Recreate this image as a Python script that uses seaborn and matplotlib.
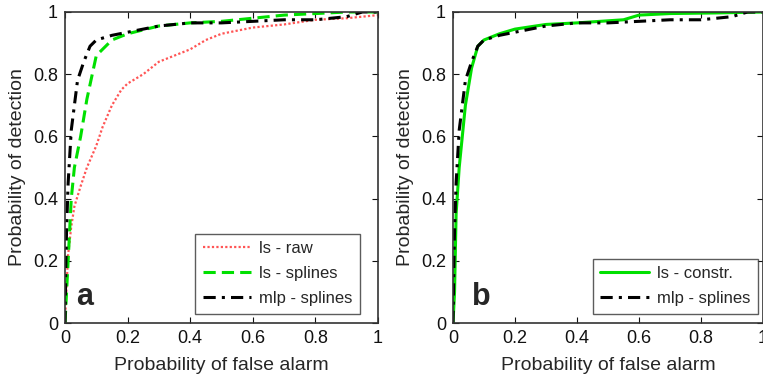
import numpy as np
import pandas as pd
import matplotlib
matplotlib.use("Agg")
import matplotlib.pyplot as plt
import seaborn as sns

# ROC curves
ls_raw_x = [0, 0.005, 0.01, 0.02, 0.03, 0.05, 0.07, 0.1, 0.12, 0.15, 0.18, 0.2, 0.25, 0.3,
            0.35, 0.4, 0.45, 0.5, 0.6, 0.7, 0.8, 0.9, 1.0]
ls_raw_y = [0, 0.12, 0.22, 0.31, 0.375, 0.44, 0.5, 0.57, 0.63, 0.7, 0.75, 0.77, 0.8, 0.84,
            0.86, 0.88, 0.91, 0.93, 0.95, 0.96, 0.975, 0.98, 0.99]

ls_spl_x = [0, 0.005, 0.01, 0.02, 0.03, 0.05, 0.07, 0.1, 0.15, 0.2, 0.3, 0.4, 0.5, 0.6,
            0.7, 0.8, 0.9, 1.0]
ls_spl_y = [0, 0.1, 0.2, 0.4, 0.5, 0.6, 0.72, 0.86, 0.91, 0.93, 0.955, 0.965, 0.97, 0.98,
            0.99, 0.995, 1.0, 1.0]

mlp_x = [0, 0.003, 0.005, 0.01, 0.02, 0.04, 0.06, 0.08, 0.1, 0.15, 0.2, 0.3, 0.4, 0.5,
         0.6, 0.7, 0.8, 0.9, 0.95, 1.0]
mlp_y = [0, 0.2, 0.3, 0.45, 0.62, 0.78, 0.84, 0.89, 0.91, 0.925, 0.935, 0.955, 0.965, 0.965,
         0.97, 0.975, 0.975, 0.985, 1.0, 1.0]

ls_con_x = [0, 0.005, 0.01, 0.02, 0.03, 0.04, 0.06, 0.08, 0.1, 0.15, 0.2, 0.3, 0.4, 0.55,
            0.6, 0.7, 0.85, 1.0]
ls_con_y = [0, 0.1, 0.35, 0.5, 0.6, 0.7, 0.82, 0.89, 0.91, 0.93, 0.945, 0.96, 0.965, 0.975,
            0.99, 0.995, 0.997, 1.0]

tick_vals = [0, 0.2, 0.4, 0.6, 0.8, 1]
tick_labels = ["0", "0.2", "0.4", "0.6", "0.8", "1"]

sns.set_style("ticks")
plt.rcParams['font.family'] = ['Liberation Sans', 'DejaVu Sans']

fig = plt.figure(figsize=(7.63, 3.77), dpi=100)
ax_a = fig.add_axes([65 / 763, 1 - 323 / 377, 313 / 763, 311 / 377])
ax_b = fig.add_axes([453 / 763, 1 - 323 / 377, 310 / 763, 311 / 377])


def style_axes(ax):
    ax.set_xlim(0, 1)
    ax.set_ylim(0, 1)
    ax.set_xticks(tick_vals)
    ax.set_xticklabels(tick_labels)
    ax.set_yticks(tick_vals)
    ax.set_yticklabels(tick_labels)
    ax.tick_params(direction='in', top=True, right=True, labelsize=13, length=4,
                   width=0.8, colors='#111111', pad=5)
    for s in ax.spines.values():
        s.set_color('#333333')
        s.set_linewidth(1.2)
    ax.set_xlabel("Probability of false alarm", fontsize=14, labelpad=7)
    ax.set_ylabel("Probability of detection", fontsize=14, labelpad=5)


# panel a
sns.lineplot(x=ls_raw_x, y=ls_raw_y, ax=ax_a, color='#ff5555', linestyle=(0, (1, 1)),
             linewidth=1.6, sort=False, estimator=None, label='ls - raw')
sns.lineplot(x=ls_spl_x, y=ls_spl_y, ax=ax_a, color='#00e000', linestyle=(0, (4, 2)),
             linewidth=2.2, sort=False, estimator=None, label='ls - splines')
sns.lineplot(x=mlp_x, y=mlp_y, ax=ax_a, color='black', linestyle=(0, (4, 2, 1, 2)),
             linewidth=2.2, sort=False, estimator=None, label='mlp - splines')
style_axes(ax_a)
leg = ax_a.legend(loc='lower right', fontsize=12, frameon=True, fancybox=False,
                  edgecolor='#333333', handlelength=2.9, borderpad=0.45,
                  labelspacing=0.6, handletextpad=0.5, borderaxespad=0,
                  bbox_to_anchor=(0.943, 0.03))
leg.get_frame().set_linewidth(1.0)
ax_a.text(0.035, 0.035, "a", transform=ax_a.transAxes, fontsize=22,
          fontweight='bold', va='bottom', ha='left')

# panel b
sns.lineplot(x=ls_con_x, y=ls_con_y, ax=ax_b, color='#00e000', linestyle='-',
             linewidth=2.2, sort=False, estimator=None, label='ls - constr.')
sns.lineplot(x=mlp_x, y=mlp_y, ax=ax_b, color='black', linestyle=(0, (4, 2, 1, 2)),
             linewidth=2.2, sort=False, estimator=None, label='mlp - splines')
style_axes(ax_b)
leg = ax_b.legend(loc='lower right', fontsize=12, frameon=True, fancybox=False,
                  edgecolor='#333333', handlelength=2.9, borderpad=0.45,
                  labelspacing=0.6, handletextpad=0.5, borderaxespad=0,
                  bbox_to_anchor=(0.984, 0.03))
leg.get_frame().set_linewidth(1.0)
ax_b.text(0.06, 0.035, "b", transform=ax_b.transAxes, fontsize=22,
          fontweight='bold', va='bottom', ha='left')

fig.savefig("out.png", dpi=100)
